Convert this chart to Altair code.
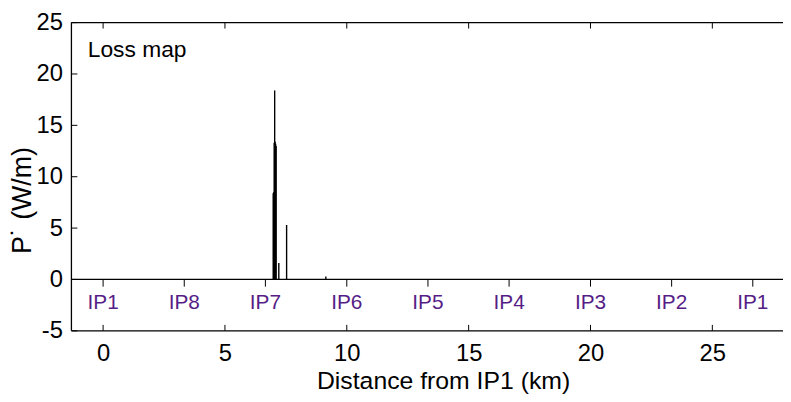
import altair as alt
import pandas as pd

# ---- data ----
spike_km = [6.98, 7.00, 7.02, 7.04, 7.06, 7.08, 7.10, 7.21, 7.53, 9.14]
spike_pw = [8.4, 8.5, 13.3, 18.4, 13.4, 13.2, 13.0, 1.6, 5.3, 0.28]

ip_names = ["IP1", "IP8", "IP7", "IP6", "IP5", "IP4", "IP3", "IP2", "IP1"]
ip_km = [0.0, 3.33, 6.66, 10.0, 13.33, 16.66, 20.0, 23.33, 26.66]

x_ticks = [0, 5, 10, 15, 20, 25]
y_ticks = [-5, 0, 5, 10, 15, 20, 25]

X_MIN, X_MAX = -1.3, 27.9
Y_MIN, Y_MAX = -5, 25
W, H = 718, 311
TICK_PX = 6
FONT = "Liberation Sans, Arial, sans-serif"

xs = alt.Scale(domain=[X_MIN, X_MAX], nice=False, zero=False)
ys = alt.Scale(domain=[Y_MIN, Y_MAX], nice=False, zero=False)

x_axis = alt.Axis(
    values=x_ticks, tickSize=0, domain=False, grid=False,
    labelFontSize=24, labelFont=FONT, labelColor="black", labelPadding=11,
    title="Distance from IP1 (km)", titleFont=FONT, titleFontSize=25,
    titleFontWeight="normal", titleColor="black", titlePadding=3,
    titleX=375)
y_axis = alt.Axis(
    values=y_ticks, tickSize=0, domain=False, grid=False,
    labelFontSize=24, labelFont=FONT, labelColor="black", labelPadding=9,
    labelExpr="'' + datum.value",
    title="P˙ (W/m)", titleFont=FONT, titleFontSize=27,
    titleFontWeight="normal", titleColor="black",
    titleX=-49, titleY=179, titleBaseline="middle", titleAlign="center")

kx = (X_MAX - X_MIN) / W * TICK_PX
ky = (Y_MAX - Y_MIN) / H * TICK_PX

spikes = pd.DataFrame({"x": spike_km, "y": 0.0, "y2": spike_pw})
ips = pd.DataFrame({"name": ip_names, "x": ip_km, "y": 0.0,
                    "y2": -0.7, "ylab": -2.3})

# frame: left, top, bottom and the zero line (right edge lies beyond the crop)
frame = pd.DataFrame({
    "x": [X_MIN, X_MIN, X_MIN, X_MIN],
    "x2": [X_MIN, X_MAX, X_MAX, X_MAX],
    "y": [Y_MIN, Y_MAX, Y_MIN, 0.0],
    "y2": [Y_MAX, Y_MAX, Y_MIN, 0.0],
})

tick_rows = []
for t in x_ticks:
    tick_rows.append({"x": t, "x2": t, "y": Y_MIN, "y2": Y_MIN + ky})
    tick_rows.append({"x": t, "x2": t, "y": Y_MAX, "y2": Y_MAX - ky})
for t in y_ticks:
    tick_rows.append({"x": X_MIN, "x2": X_MIN + kx, "y": t, "y2": t})
ticks = pd.DataFrame(tick_rows)

X = alt.X("x:Q", scale=xs, axis=x_axis)
Y = alt.Y("y:Q", scale=ys, axis=y_axis)

frame_layer = alt.Chart(frame).mark_rule(color="black", strokeWidth=1.3).encode(
    x=X, x2="x2:Q", y=Y, y2="y2:Q",
)

tick_layer = alt.Chart(ticks).mark_rule(color="black", strokeWidth=1).encode(
    x=X, x2="x2:Q", y=Y, y2="y2:Q",
)

ip_ticks = alt.Chart(ips).mark_rule(color="black", strokeWidth=1).encode(
    x=X, y=Y, y2="y2:Q",
)

ip_labels = alt.Chart(ips).mark_text(
    color="#561D86", fontSize=21, font=FONT, baseline="middle", align="center"
).encode(
    x=X,
    y=alt.Y("ylab:Q", scale=ys, axis=y_axis),
    text="name:N",
)

spike_layer = alt.Chart(spikes).mark_rule(color="black", strokeWidth=1.4).encode(
    x=X, y=Y, y2="y2:Q",
)

title_txt = alt.Chart(pd.DataFrame({"x": [-0.63], "y": [22.3], "t": ["Loss map"]})).mark_text(
    align="left", baseline="middle", fontSize=23, font=FONT, color="black"
).encode(
    x=X, y=Y, text="t:N",
)

chart = alt.layer(
    frame_layer, tick_layer, ip_ticks, spike_layer, ip_labels, title_txt
).properties(
    width=W, height=H,
    autosize=alt.AutoSizeParams(type="none"),
    padding={"left": 64, "top": 13, "right": 0, "bottom": 62},
    background="white",
).configure_view(strokeWidth=0)

chart.save("out.html", embed_options={"renderer": "svg", "actions": False})
